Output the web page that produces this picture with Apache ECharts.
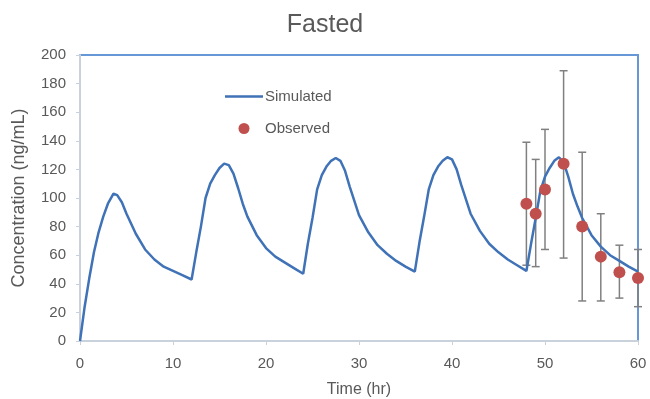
<!DOCTYPE html>
<html><head><meta charset="utf-8">
<script src="https://cdn.jsdelivr.net/npm/echarts@6/dist/echarts.min.js"></script>
<style>html,body{margin:0;padding:0;background:#fff}#c{width:650px;height:399px}</style>
</head><body><div id="c"></div>
<script>
const simTime = [0,0.5,1,1.5,2,2.5,3,3.6,4,4.5,5,6,7,8,9,10,11,12,
  12.5,13,13.5,14,14.5,15,15.5,16,16.5,17,17.5,18,19,20,21,22,23,24,
  24.5,25,25.5,26,26.5,27,27.5,28,28.5,29,29.5,30,31,32,33,34,35,36,
  36.5,37,37.5,38,38.5,39,39.5,40,40.5,41,41.5,42,43,44,45,46,47,48,
  48.5,49,49.5,50,50.5,51,51.5,52,52.5,53,53.5,54,55,56,57,58,59,60];
const simConc = [0,24,44,62,76,87,96,103,102,97,89,75,64,57,52,49,46,43,
  62,80,100,110,116,121,124,123,117,107,96,87,74,65,59,55,51,47,
  68,86,106,116,122,126,128,126,119,108,98,88,76,67,61,56,52,48.5,
  69,87,106,116,122,126,128.5,127,120,109,99,89,77,68,62,57,53,49,
  68,86,105,115,121,126,128.5,125,115,103,94,86,74,66,60,56,52,48.5];
const obsTime = [48,49,50,52,54,56,58,60];
const obsConc = [96,89,106,124,80,59,48,44];
const obsLow  = [53,52,64,58,28,28,30,24];
const obsHigh = [139,127,148,189,132,89,67,64];
const yTicks = [0,20,40,60,80,100,120,140,160,180,200];
const xTicks = [0,10,20,30,40,50,60];

const FONT = '"Liberation Sans", Arial, sans-serif';
const TXT = '#595959';
const chart = echarts.init(document.getElementById('c'));
chart.setOption({
  animation: false,
  textStyle: {fontFamily: FONT},
  title: {text: 'Fasted', left: 'center', top: 8, textStyle: {fontFamily: FONT, fontSize: 25, fontWeight: 'normal', color: TXT}},
  legend: {
    left: 225, top: 89, padding: 0, orient: 'vertical', itemWidth: 38, itemHeight: 11, itemGap: 17,
    textStyle: {fontFamily: FONT, fontSize: 15, color: TXT, padding: [0,0,0,-3]},
    data: [
      {name: 'Simulated', icon: 'path://M0,0 L40,0 L40,2.6 L0,2.6 Z', itemStyle: {color: '#3f72b6', borderWidth: 0}},
      {name: 'Observed', icon: 'circle'}
    ]
  },
  grid: {left: 80, right: 12, top: 55, bottom: 58, outerBoundsMode: 'none', containLabel: false, show: true, borderColor: '#6697d6', borderWidth: 2, backgroundColor: '#fff'},
  xAxis: {
    type: 'value', min: xTicks[0], max: xTicks[xTicks.length-1], interval: 10,
    name: 'Time (hr)', nameLocation: 'middle', nameGap: 41,
    nameTextStyle: {fontFamily: FONT, fontSize: 16, color: TXT},
    axisLine: {show: true, lineStyle: {color: '#c8d1dc', width: 2}},
    axisTick: {show: true, length: 4, lineStyle: {color: '#c8d1dc'}},
    axisLabel: {fontFamily: FONT, fontSize: 15, color: TXT, margin: 15},
    splitLine: {show: false}
  },
  yAxis: {
    type: 'value', min: yTicks[0], max: yTicks[yTicks.length-1], interval: 20,
    name: 'Concentration (ng/mL)', nameLocation: 'middle', nameGap: 52,
    nameTextStyle: {fontFamily: FONT, fontSize: 18, color: TXT},
    axisLine: {show: true, lineStyle: {color: '#c8d1dc', width: 2}},
    axisTick: {show: true, length: 4, lineStyle: {color: '#c8d1dc'}},
    axisLabel: {fontFamily: FONT, fontSize: 15, color: TXT, margin: 14},
    splitLine: {show: false}
  },
  series: [
    {
      name: 'Simulated', type: 'line', symbol: 'none', smooth: false,
      data: simTime.map((t,i) => [t, simConc[i]]),
      lineStyle: {color: '#3f72b6', width: 2.5}, itemStyle: {color: '#3f72b6'}, z: 3
    },
    {
      name: 'errbars', type: 'custom', z: 2,
      data: obsTime.map((t,i) => [t, obsLow[i], obsHigh[i]]),
      renderItem: function(params, api) {
        const x = api.value(0);
        const lo = api.coord([x, api.value(1)]);
        const hi = api.coord([x, api.value(2)]);
        const w = 4;
        const st = {stroke: '#808080', lineWidth: 1.5};
        return {type: 'group', children: [
          {type: 'line', shape: {x1: lo[0], y1: lo[1], x2: hi[0], y2: hi[1]}, style: st},
          {type: 'line', shape: {x1: lo[0]-w, y1: lo[1], x2: lo[0]+w, y2: lo[1]}, style: st},
          {type: 'line', shape: {x1: hi[0]-w, y1: hi[1], x2: hi[0]+w, y2: hi[1]}, style: st}
        ]};
      },
      encode: {x: 0, y: [1,2]}
    },
    {
      name: 'Observed', type: 'scatter', symbol: 'circle', symbolSize: 12,
      data: obsTime.map((t,i) => [t, obsConc[i]]),
      itemStyle: {color: '#c0504d', opacity: 1}, z: 4
    }
  ]
});
</script></body></html>
